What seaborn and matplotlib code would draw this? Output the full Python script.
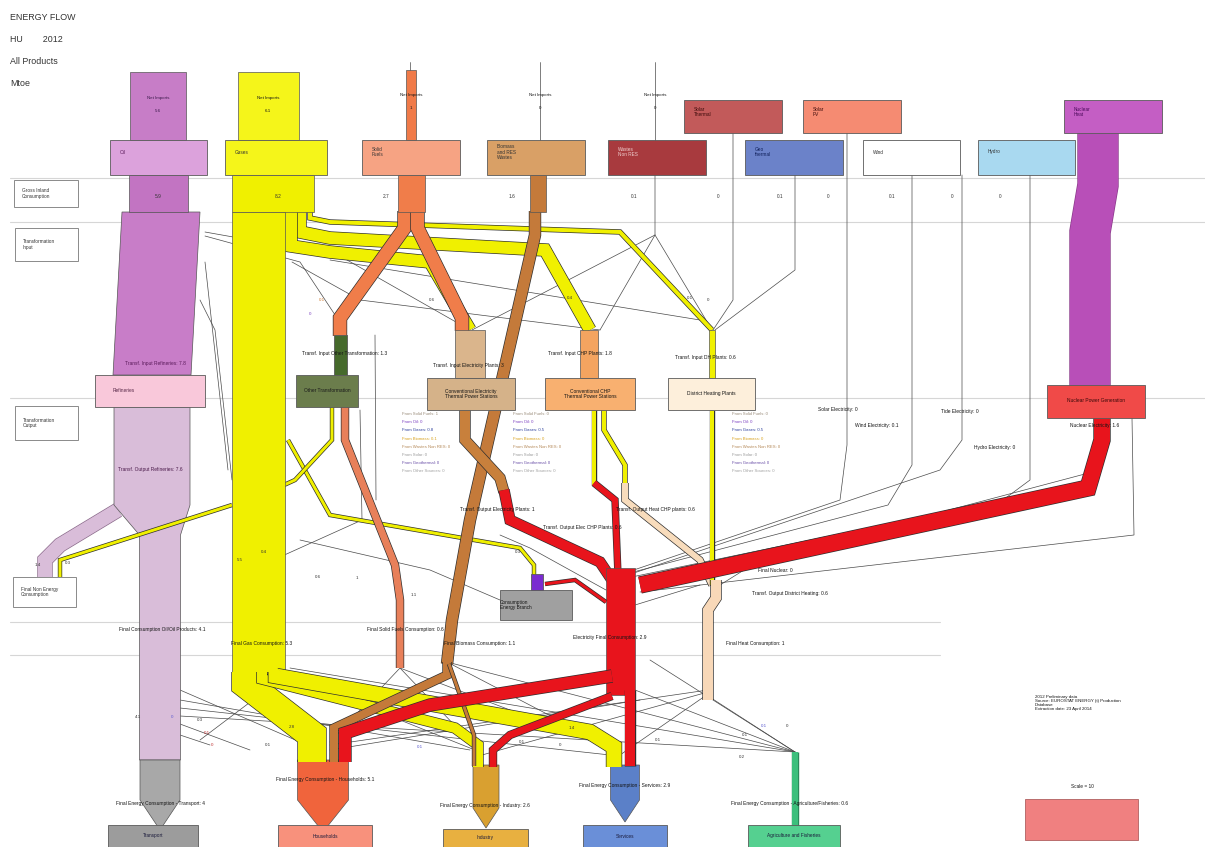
import numpy as np
import pandas as pd
import matplotlib
matplotlib.use("Agg")
import matplotlib.pyplot as plt
from matplotlib.patches import Rectangle, Polygon
import seaborn as sns

# ---------------------------------------------------------------------------
# data (Mtoe) - HU 2012
# ---------------------------------------------------------------------------
products     = ["Oil", "Gases", "Solid\nFuels", "Biomass\nand RES\nWastes", "Wastes\nNon RES",
                "Solar\nThermal", "Solar\nPV", "Geo\nthermal", "Wind", "Hydro", "Nuclear\nHeat"]
net_imports  = [5.6, 6.1, 1.0, 0, 0]
gross_inland = [5.9, 8.2, 2.7, 1.6, 0.1, 0, 0, 0.1, 0.1, 0, 4.0]

transf_in_names  = ["Refineries", "Other Transformation", "Electricity Plants", "CHP Plants", "DH Plants"]
transf_in_values = [7.8, 1.3, 3.0, 1.8, 0.6]
refinery_output  = 7.6
nuclear_elec     = 1.6

solid_split   = [1.3, 1.3]          # other transformation, electricity plants
gas_to_transf = [1.2, 1.2, 0.4]     # electricity, CHP, DH
other_out     = [0.7, 0.3]          # solid fuels, gas
non_energy    = [1.4, 0.3]          # oil, gas
energy_branch = [0.3, 0.3]          # gas, electricity

elec_out = [1.0, 0.6]               # electricity plants, CHP (electricity)
heat_out = [0.6, 0.4]               # CHP (heat), DH

final_fuel_names  = ["Final Consumption Oil/Oil Products", "Final Gas Consumption",
                     "Final Solid Fuels Consumption", "Final Biomass Consumption",
                     "Electricity Final Consumption", "Final Heat Consumption"]
final_fuel_values = [4.1, 5.3, 0.6, 1.1, 2.9, 1.0]

sectors        = ["Transport", "Households", "Industry", "Services", "Agriculture and Fisheries"]
sector_labels  = ["Transport", "Households", "Industry", "Services", "Agriculture/Fisheries"]
sector_values  = [4.0, 5.1, 2.6, 2.9, 0.6]
gas_to_sector  = [2.8, 1.0, 1.5]    # households, industry, services
elec_to_sector = [1.2, 0.7, 1.0]    # households, industry, services
bio_to_sector  = [0.8, 0.3]         # households, industry

src_names = ["From Solid Fuels", "From Oil", "From Gases", "From Biomass",
             "From Wastes Non RES", "From Solar", "From Geothermal", "From Other Sources"]
elec_src  = [1, 0, 0.8, 0.1, 0, 0, 0, 0]
chp_src   = [0, 0, 0.5, 0, 0, 0, 0, 0]
dh_src    = [0, 0, 0.5, 0, 0, 0, 0, 0]
src_cols  = ["#9a8c7a", "#7b3fc0", "#2c3f9c", "#d8a21e", "#b58a5a", "#9a9a9a", "#6a4fa8", "#a0a0a0"]

# ---------------------------------------------------------------------------
# layout (pixel space of the original sheet)
# ---------------------------------------------------------------------------
DPI = 100
PT = 72 / DPI
SCALE = 10          # px per Mtoe

sns.set_theme(style="white")
plt.rcParams["font.family"] = ["Liberation Sans", "DejaVu Sans"]

fig = plt.figure(figsize=(12.05, 8.47), dpi=DPI)
ax = fig.add_axes([0, 0, 1, 1])


def rect(x0, y0, x1, y1, fc, ec="#5a5a5a", lw=0.6, z=3):
    ax.add_patch(Rectangle((x0, y0), x1 - x0, y1 - y0, fc=fc, ec=ec, lw=lw, zorder=z))


def column(xc, y0, y1, value, fc, z=2):
    w = value * SCALE / 2
    rect(xc - w, y0, xc + w, y1, fc, ec="#555555", lw=0.5, z=z)


def poly(pts, fc, z=2):
    ax.add_patch(Polygon(pts, closed=True, fc=fc, ec="#555555", lw=0.5, zorder=z))


def band(pts, value, fc, ec="#2e2e2e", z=2):
    xs, ys = zip(*pts)
    w = max(value * SCALE * PT, 0.7)
    ax.plot(xs, ys, color=ec, lw=w + 1.0, solid_joinstyle="miter", solid_capstyle="butt", zorder=z)
    ax.plot(xs, ys, color=fc, lw=w, solid_joinstyle="miter", solid_capstyle="butt", zorder=z)


def arrow(xc, y0, y1, tip, value, fc, z=3):
    w = value * SCALE / 2
    poly([(xc - w, y0), (xc + w, y0), (xc + w, y1), (xc, tip), (xc - w, y1)], fc, z=z)


def txt(x, y, s, size=3.6, color="#151515", ha="center", z=7, **kw):
    ax.text(x, y, s, fontsize=size, color=color, ha=ha, va="center", zorder=z,
            linespacing=1.1, **kw)


# title block
for i, s in enumerate(["ENERGY FLOW", "HU        2012", "All Products", "Mtoe"]):
    txt(10, 17 + i * 22, s, size=6.4, color="#333333", ha="left")

# stage separators
for y, x1 in [(178, 1205), (222, 1205), (398, 1205), (622, 940), (655, 940)]:
    ax.plot([10, x1], [y, y], color="#d6d6d6", lw=0.8, zorder=0)

for s, x0, y0, x1, y1 in [("Gross Inland\nConsumption", 14, 180, 78, 207),
                          ("Transformation\nInput", 15, 228, 78, 261),
                          ("Transformation\nOutput", 15, 406, 78, 440),
                          ("Final Non Energy\nConsumption", 13, 577, 76, 607)]:
    rect(x0, y0, x1, y1, "white", ec="#8a8a8a", lw=0.7, z=4)
    txt(x0 + 8, (y0 + y1) / 2, s, size=3.4, color="#333333", ha="left")

# ---------------------------------------------------------------------------
# thin connectors (seaborn)
# ---------------------------------------------------------------------------
links = [
    [(540, 62), (540, 140)], [(655, 62), (655, 140)], [(410, 62), (410, 72)],
    [(733, 133), (733, 300), (713, 330)],
    [(795, 175), (795, 270), (715, 330)],
    [(847, 133), (847, 445), (840, 500), (622, 574)],
    [(912, 175), (912, 465), (888, 505), (622, 575)],
    [(962, 175), (962, 440), (940, 470), (622, 577)],
    [(1030, 175), (1030, 480), (1003, 500), (622, 579)],
    [(1132, 418), (1134, 535), (640, 592)],
    [(655, 175), (655, 235), (600, 330)], [(655, 235), (712, 330)], [(655, 235), (472, 330)],
    [(205, 232), (340, 256), (470, 330)], [(205, 236), (300, 262), (345, 330)],
    [(205, 262), (228, 470)], [(200, 300), (215, 330), (232, 480)],
    [(292, 262), (360, 300), (600, 330)], [(330, 260), (700, 320)],
    [(360, 410), (362, 520), (240, 575)], [(375, 335), (376, 500)],
    [(180, 690), (300, 742)], [(180, 700), (470, 750)], [(180, 708), (610, 755)],
    [(180, 716), (795, 752)], [(180, 724), (250, 750)], [(180, 735), (210, 745)],
    [(290, 668), (795, 752)], [(290, 672), (200, 740)], [(290, 676), (480, 752)],
    [(708, 690), (330, 745)], [(708, 692), (482, 755)], [(708, 694), (620, 755)], [(708, 696), (795, 752)],
    [(635, 690), (795, 752)], [(650, 660), (795, 752)], [(640, 700), (330, 750)],
    [(400, 668), (330, 742)], [(400, 668), (480, 752)], [(400, 668), (620, 752)],
    [(447, 662), (795, 752)], [(447, 662), (620, 752)],
    [(606, 590), (530, 548), (500, 535)], [(500, 600), (430, 570), (300, 540)],
    [(635, 605), (700, 585)], [(720, 585), (760, 560), (1100, 470)],
]
rows = []
for i, route in enumerate(links):
    for j, (x, y) in enumerate(route):
        rows.append({"link": i, "step": j, "x": x, "y": y})
df_links = pd.DataFrame(rows)
sns.lineplot(data=df_links, x="x", y="y", units="link", estimator=None, sort=False,
             color="#4a4a4a", lw=0.5, ax=ax, legend=False, zorder=1)

# ---------------------------------------------------------------------------
# product boxes
# ---------------------------------------------------------------------------
prod_box = [(110, 140, 207, 175, "#dca2dc", "#5a1a5a"),
            (225, 140, 327, 175, "#f5f51a", "#333333"),
            (362, 140, 460, 175, "#f6a383", "#333333"),
            (487, 140, 585, 175, "#d9a066", "#333333"),
            (608, 140, 706, 175, "#a83a3e", "#f0d0d0"),
            (684, 100, 782, 133, "#c25a5a", "#3a0a0a"),
            (803, 100, 901, 133, "#f58b72", "#3a0a0a"),
            (745, 140, 843, 175, "#6b82c9", "#10205a"),
            (863, 140, 960, 175, "#ffffff", "#333333"),
            (978, 140, 1075, 175, "#a9d9f0", "#333333"),
            (1064, 100, 1162, 133, "#c45ec4", "#4a0a5a")]
for name, (x0, y0, x1, y1, fc, tc) in zip(products, prod_box):
    rect(x0, y0, x1, y1, fc, z=4)
    txt(x0 + 10, y0 + 12, name, size=3.4, color=tc, ha="left")

# net imports
ni_x = [158, 268, 411, 540, 655]
ni_y = [98, 98, 95, 95, 95]
ni_cols = ["#c77dc7", "#f5f51a", "#f07a48"]
for k, v in enumerate(net_imports):
    if v > 0:
        column(ni_x[k], 72 if k < 2 else 70, 140, v, ni_cols[k], z=3)
    txt(ni_x[k], ni_y[k], "Net Imports", size=3.2, color="#3a1a4a" if k == 0 else "#151515")
    txt(ni_x[k], ni_y[k] + 13, f"{v:g}", size=3.2, color="#3a1a4a" if k == 0 else "#151515")

# gross inland labels
gic_x = [158, 278, 386, 512, 634, 718, 828, 780, 892, 1000]
for k, x in enumerate(gic_x):
    txt(x, 196, f"{gross_inland[k]:g}", size=3.4, color="#333333")
for x in [952]:
    txt(x, 196, "0", size=3.4, color="#333333")

# ---------------------------------------------------------------------------
# oil
# ---------------------------------------------------------------------------
column(158, 175, 212, gross_inland[0], "#c274c2", z=3)
w = transf_in_values[0] * SCALE / 2
poly([(161 - w, 212), (161 + w, 212), (152 + w, 375), (152 - w, 375)], "#c87dc8")
rect(95, 375, 205, 407, "#f9c8da", z=4)
w2 = refinery_output * SCALE / 2
wf = final_fuel_values[0] * SCALE / 2
band([(118, 510), (60, 545), (45, 560), (45, 577)], non_energy[0], "#d9bdd9", ec="#8a6a8a")
poly([(152 - w2, 407), (152 + w2, 407), (152 + w2, 505), (160 + wf, 535), (160 + wf, 760),
      (160 - wf, 760), (160 - wf, 535), (152 - w2, 505)], "#d9bdd9", z=2)
arrow(160, 760, 800, 830, sector_values[0], "#a8a8a8")

# ---------------------------------------------------------------------------
# gas
# ---------------------------------------------------------------------------
column(273, 175, 212, gross_inland[1], "#f0f000", z=3)
band([(310, 210), (310, 218), (330, 222), (620, 232), (712, 330)], gas_to_transf[2], "#f0f000")
band([(300, 210), (300, 232), (330, 238), (545, 250), (590, 330)], gas_to_transf[1], "#f0f000")
band([(291, 210), (291, 246), (330, 252), (430, 262), (470, 330)], gas_to_transf[0], "#f0f000")
band([(232, 505), (60, 560), (60, 577)], non_energy[1], "#f0f000")
band([(288, 440), (330, 515), (520, 548), (534, 565), (534, 578)], energy_branch[0], "#f0f000")
column(258.5, 212, 675, final_fuel_values[1], "#f0f000", z=3)
band([(246, 672), (246, 684), (312, 735), (312, 762)], gas_to_sector[0], "#f0f000", z=4)
band([(262, 672), (262, 679), (455, 728), (478, 745), (478, 767)], gas_to_sector[1], "#f0f000", z=4)
band([(276, 672), (276, 676), (590, 732), (614, 747), (614, 767)], gas_to_sector[2], "#f0f000", z=4)

# ---------------------------------------------------------------------------
# solid fuels, other transformation
# ---------------------------------------------------------------------------
column(411, 175, 212, gross_inland[2], "#f07d4a", z=3)
band([(404.5, 211), (404.5, 228), (340, 318), (340, 336)], solid_split[0], "#f07d4a")
band([(417.5, 211), (417.5, 228), (462, 318), (462, 331)], solid_split[1], "#f07d4a")
rect(334, 335, 347, 375, "#466a2c", z=3)
rect(296, 375, 358, 407, "#6b7d4c", z=4)
band([(332, 407), (332, 440), (295, 480), (240, 505)], other_out[1], "#f0f000")
band([(345, 407), (345, 440), (395, 565), (400, 600), (400, 668)], other_out[0], "#e8805a")

# ---------------------------------------------------------------------------
# biomass
# ---------------------------------------------------------------------------
column(538, 175, 212, gross_inland[3], "#c47a3a", z=3)
band([(535, 211), (535, 235), (470, 520), (452, 620), (447, 664)], final_fuel_values[3], "#c47a3a")
band([(447, 662), (447, 675), (334, 728), (334, 762)], bio_to_sector[0], "#c47a3a", z=4)
band([(449, 664), (474, 735), (474, 766)], bio_to_sector[1], "#c47a3a", z=4)

# ---------------------------------------------------------------------------
# electricity / CHP / DH plants
# ---------------------------------------------------------------------------
column(470, 330, 378, transf_in_values[2], "#dab58c", z=3)
rect(427, 378, 515, 410, "#d5b289", z=4)
column(589, 330, 378, transf_in_values[3], "#f4a460", z=3)
rect(545, 378, 635, 410, "#f8b070", z=4)
column(712, 330, 378, transf_in_values[4], "#f0f000", z=3)
rect(668, 378, 755, 410, "#fdefdb", z=4)

band([(465, 410), (465, 440), (500, 478), (504, 492)], 1.0, "#c8803c", z=3)
band([(504, 490), (510, 520), (600, 562), (612, 580)], elec_out[0], "#e8141c", z=3)
band([(594, 410), (594, 485)], 0.4, "#f0f000", z=3)
band([(604, 410), (604, 430), (625, 465), (625, 485)], 0.4, "#f0f000", z=3)
band([(594, 483), (615, 500), (618, 575)], elec_out[1], "#e8141c", z=3)
band([(625, 483), (625, 500), (700, 560), (712, 585)], heat_out[0], "#f8dcbc", z=3)
band([(712, 410), (712, 585)], heat_out[1], "#f0f000", z=3)
band([(716, 580), (716, 598), (708, 610), (708, 700)], final_fuel_values[5], "#f8d8b8", z=3)

# ---------------------------------------------------------------------------
# nuclear
# ---------------------------------------------------------------------------
band([(1098, 133), (1098, 185), (1090, 232), (1090, 386)], gross_inland[10], "#b84fb8", ec="#8a3a8a", z=3)
rect(1047, 385, 1145, 418, "#f04a48", z=4)
band([(1102, 418), (1102, 440), (1088, 488), (640, 585)], nuclear_elec, "#e8141c", z=3)

# electricity hub and distribution
we = final_fuel_values[4] * SCALE / 2
poly([(620.5 - we, 568), (620.5 + we, 568), (620.5 + we, 695), (620.5 - we, 695)], "#e8141c", z=3)
band([(606, 602), (575, 580), (545, 584)], energy_branch[1], "#e8141c", z=3)
band([(612, 676), (430, 705), (345, 733), (345, 762)], elec_to_sector[0], "#e8141c", z=4)
band([(612, 696), (510, 735), (493, 750), (493, 767)], elec_to_sector[1], "#e8141c", z=4)
band([(630, 690), (630, 766)], elec_to_sector[2], "#e8141c", z=4)

# consumption of energy branch
rect(500, 590, 572, 620, "#a0a0a0", z=4)
rect(531, 574, 543, 590, "#7a2bd0", z=4)

# ---------------------------------------------------------------------------
# final consumption
# ---------------------------------------------------------------------------
arrow(323, 760, 800, 832, sector_values[1], "#f0643c")
arrow(486, 765, 808, 828, sector_values[2], "#d9a030")
arrow(625, 765, 800, 822, sector_values[3], "#5b80c8")
band([(795, 752), (795, 826)], sector_values[4], "#3cbf7c", ec="#2a8a5a", z=3)
sec_box = [(108, 825, 198, 847, "#9c9c9c"), (278, 825, 372, 847, "#f8917c"),
           (443, 829, 528, 847, "#e8b040"), (583, 825, 667, 847, "#6a8fd8"),
           (748, 825, 840, 847, "#55d090")]
for name, (x0, y0, x1, y1, fc) in zip(sectors, sec_box):
    rect(x0, y0, x1, y1, fc, z=5)
    txt((x0 + x1) / 2, (y0 + y1) / 2, name, size=3.4, color="#1a1a3a")

sec_lab = [(160, 803), (325, 780), (485, 805), (625, 785), (790, 803)]
for lab, v, (x, y) in zip(sector_labels, sector_values, sec_lab):
    txt(x, y, f"Final Energy Consumption - {lab}: {v:g}", size=3.5)

ff_lab = [(162, 630), (262, 643), (405, 630), (480, 643), (610, 638), (755, 643)]
for lab, v, (x, y) in zip(final_fuel_names, final_fuel_values, ff_lab):
    txt(x, y, f"{lab}: {v:g}", size=3.5)

# ---------------------------------------------------------------------------
# transformation labels
# ---------------------------------------------------------------------------
ti_lab = [(155, 363), (345, 353), (468, 366), (580, 353), (705, 357)]
ti_short = ["Refineries", "Other Transformation", "Electricity Plants", "CHP Plants", "DH Plants"]
for lab, v, (x, y) in zip(ti_short, transf_in_values, ti_lab):
    txt(x, y, f"Transf. Input {lab}: {v:g}", size=3.5, color="#5a1a5a" if x < 200 else "#151515", z=8)

txt(113, 391, "Refineries", size=3.5, color="#5a2a4a", ha="left")
txt(327, 391, "Other Transformation", size=3.5, color="#1a1a1a")
txt(471, 394, "Conventional Electricity\nThermal Power Stations", size=3.5)
txt(590, 394, "Conventional CHP\nThermal Power Stations", size=3.5)
txt(711, 394, "District Heating Plants", size=3.5)
txt(1096, 401, "Nuclear Power Generation", size=3.5, color="#3a0a0a")
txt(500, 605, "Consumption\nEnergy Branch", size=3.4, ha="left")
txt(150, 470, f"Transf. Output Refineries: {refinery_output:g}", size=3.5, color="#4a1a4a")

for s, x, y in [("Solar Electricity: 0", 838, 410), ("Wind Electricity: 0.1", 877, 425),
                ("Tide Electricity: 0", 960, 411), ("Hydro Electricity: 0", 995, 448),
                (f"Nuclear Electricity: {nuclear_elec:g}", 1095, 425),
                (f"Transf. Output Electricity Plants: {elec_out[0]:g}", 497, 510),
                (f"Transf. Output Elec CHP Plants: {elec_out[1]:g}", 582, 527),
                (f"Transf. Output Heat CHP plants: {heat_out[0]:g}", 655, 510),
                ("Final Nuclear: 0", 775, 571),
                ("Transf. Output District Heating: 0.6", 790, 594)]:
    txt(x, y, s, size=3.5)

for x0, vals in [(402, elec_src), (513, chp_src), (732, dh_src)]:
    for k, (n, v) in enumerate(zip(src_names, vals)):
        txt(x0, 414 + k * 8.2, f"{n}: {v:g}", size=3.1, color=src_cols[k], ha="left")

# small flow values
for s, x, y, c in [("0.1", 322, 300, "#d07a30"), ("0", 310, 314, "#7a3fbf"), ("0.6", 432, 300, "#333"),
                   ("0.4", 570, 298, "#333"), ("0.1", 690, 298, "#333"), ("0", 708, 300, "#333"),
                   (f"{non_energy[0]:g}", 38, 565, "#333"), (f"{non_energy[1]:g}", 68, 563, "#333"),
                   ("5.5", 240, 560, "#333"), ("0.4", 264, 552, "#333"), ("0.6", 318, 577, "#333"),
                   ("1", 357, 578, "#333"), ("1.1", 414, 595, "#333"), ("0.3", 518, 552, "#333"),
                   ("4.1", 138, 717, "#333"), ("0", 172, 717, "#5a5ad0"), ("0.3", 200, 720, "#333"),
                   ("0.1", 207, 733, "#c03030"), ("0", 212, 745, "#c03030"), ("0.1", 268, 745, "#333"),
                   (f"{gas_to_sector[0]:g}", 292, 727, "#333"), ("0.1", 420, 747, "#5a5ad0"),
                   ("0.1", 522, 742, "#333"), ("0", 560, 745, "#333"), ("1.4", 572, 728, "#333"),
                   ("0.1", 658, 740, "#333"), ("0.1", 745, 735, "#333"), ("0.2", 742, 757, "#333"),
                   ("0.1", 764, 726, "#5a5ad0"), ("0", 787, 726, "#333")]:
    txt(x, y, s, size=3.2, color=c)

# source note and scale
txt(1035, 703, "2012 Preliminary data\nSource: EUROSTAT ENERGY (t) Production\nDatabase\n"
               "Extraction date: 23 April 2014", size=3.2, ha="left")
txt(1082, 786, "Scale = 10", size=3.4)
rect(1025, 799, 1138, 840, "#f08080", ec="#b06060", z=4)

ax.set_xlim(0, 1205)
ax.set_ylim(847, 0)
ax.axis("off")
fig.savefig("out.png", dpi=DPI, facecolor="white")
